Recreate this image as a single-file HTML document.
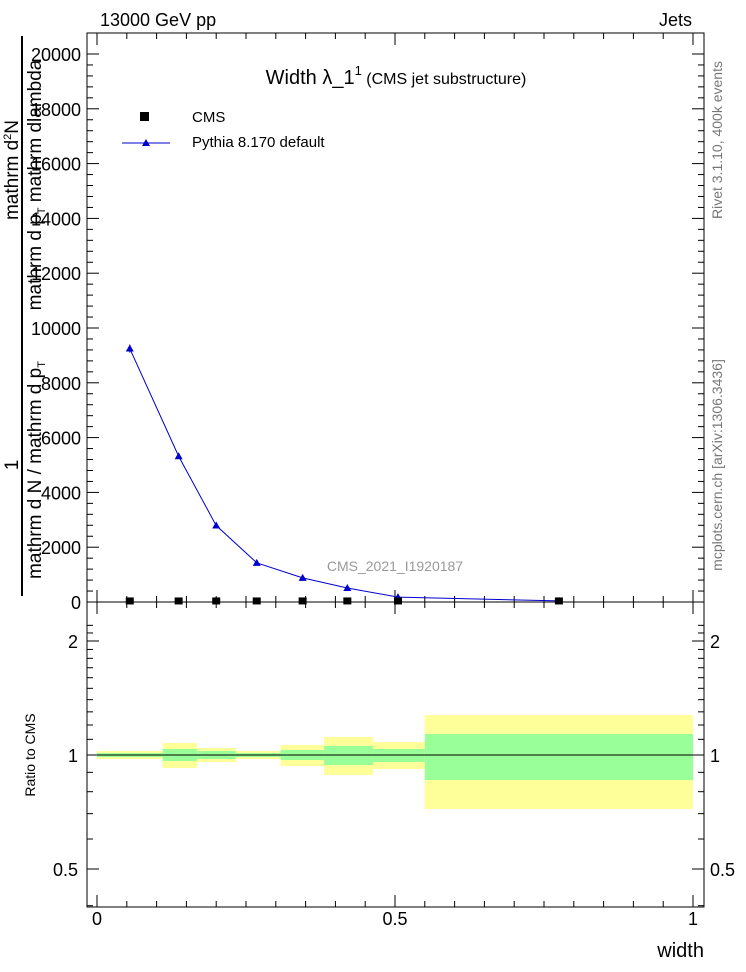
<!DOCTYPE html>
<html><head><meta charset="utf-8"><style>
body{margin:0;background:#fff}
svg{display:block;font-family:"Liberation Sans",sans-serif}
</style></head><body>
<svg id="c" width="746" height="972" xmlns="http://www.w3.org/2000/svg">
<text x="100" y="26" font-size="18">13000 GeV pp</text>
<text x="692" y="26" font-size="18" text-anchor="end">Jets</text>
<text x="396" y="84" font-size="20" text-anchor="middle">Width λ_1<tspan font-size="13" dy="-9">1</tspan><tspan font-size="16" dy="9"> (CMS jet substructure)</tspan></text>
<text x="395" y="571" font-size="14" fill="#999" text-anchor="middle">CMS_2021_I1920187</text>
<text transform="translate(722,140) rotate(-90)" font-size="14" fill="#777" text-anchor="middle">Rivet 3.1.10, 400k events</text>
<text transform="translate(722,465) rotate(-90)" font-size="14" fill="#777" text-anchor="middle">mcplots.cern.ch [arXiv:1306.3436]</text>
<g font-size="19">
<text transform="translate(18,170) rotate(-90)" text-anchor="middle">mathrm d<tspan font-size="11" dy="-7">2</tspan><tspan dy="7">N</tspan></text>
<text transform="translate(18,465) rotate(-90)" text-anchor="middle">1</text>
<line x1="22" y1="36" x2="22" y2="596" stroke="#000" stroke-width="2"/>
<text transform="translate(41,185) rotate(-90)" text-anchor="middle">mathrm d p<tspan font-size="11" dy="4">T</tspan><tspan dy="-4"> mathrm dlambda</tspan></text>
<text transform="translate(41,470) rotate(-90)" text-anchor="middle">mathrm d N / mathrm d p<tspan font-size="11" dy="4">T</tspan></text>
</g>
<text transform="translate(35,755) rotate(-90)" font-size="14" text-anchor="middle">Ratio to CMS</text>
<text x="704" y="957" font-size="20" text-anchor="end">width</text>
<g id="legend">
<rect x="140" y="112" width="9" height="9" fill="#000"/>
<text x="192" y="122" font-size="15">CMS</text>
<line x1="122" y1="143" x2="170" y2="143" stroke="#00c"/>
<polygon points="146,139 142,146 150,146" fill="#00c"/>
<text x="192" y="147" font-size="15">Pythia 8.170 default</text>
</g>
</svg>
<script>
const binEdges=[0,0.11,0.168,0.233,0.308,0.381,0.463,0.55,1.0];
const xPoints=[0.055,0.137,0.200,0.268,0.345,0.420,0.505,0.775];
const pythiaValues=[9250,5320,2790,1430,880,510,180,40];
const pythiaErr=[150,100,70,40,30,20,10,5];
const cmsValues=[20,20,20,20,20,20,20,20];
const yTicks=[0,2000,4000,6000,8000,10000,12000,14000,16000,18000,20000];
const xTickLabels=[0,0.5,1];
const ratioTicks=[0.5,1,2];
const yellowHi=[1.025,1.076,1.043,1.025,1.063,1.116,1.082,1.275];
const yellowLo=[0.976,0.924,0.958,0.976,0.935,0.885,0.918,0.720];
const greenHi=[1.012,1.037,1.025,1.012,1.031,1.056,1.037,1.136];
const greenLo=[0.988,0.964,0.976,0.988,0.970,0.941,0.958,0.859];

const NS="http://www.w3.org/2000/svg";
const svg=document.getElementById('c');
const L=87,R=704,T=33,MB=602,RB=907;
const X=v=>97+v*596;
const Y=v=>602-v*(548/20000);
const RY=v=>755-Math.log2(v)*114;
function mk(tag,attrs,parent){const e=document.createElementNS(NS,tag);for(const k in attrs)e.setAttribute(k,attrs[k]);(parent||svg).appendChild(e);return e;}

const bands=mk('g',{});


for(let i=0;i<binEdges.length-1;i++){
  const x0=X(binEdges[i]),x1=X(binEdges[i+1]);
  const y=mk('rect',{x:x0,y:RY(yellowHi[i]),width:x1-x0,height:RY(yellowLo[i])-RY(yellowHi[i]),fill:'#ffff99'},bands);
  
  
  const g=mk('rect',{x:x0,y:RY(greenHi[i]),width:x1-x0,height:RY(greenLo[i])-RY(greenHi[i]),fill:'#99ff99'},bands);
  
  
}
const one=mk('line',{x1:X(binEdges[0]),x2:X(binEdges[binEdges.length-1]),y1:RY(1),y2:RY(1),stroke:'#000'});



const f1=mk('rect',{x:L,y:T,width:R-L,height:MB-T,fill:'none',stroke:'#000'});


const f2=mk('rect',{x:L,y:MB,width:R-L,height:RB-MB,fill:'none',stroke:'#000'});



for(let i=0;i<yTicks.length;i++){
  const y=Y(yTicks[i]);
  mk('line',{x1:L,x2:L+12,y1:y,y2:y,stroke:'#000'});
  mk('line',{x1:R,x2:R-12,y1:y,y2:y,stroke:'#000'});
  const t=mk('text',{x:81,y:y+7,'font-size':18,'text-anchor':'end'});
  t.textContent=yTicks[i];
  
  
  if(i<yTicks.length-1){for(let k=1;k<5;k++){const ym=Y(yTicks[i]+k*(yTicks[i+1]-yTicks[i])/5);
    mk('line',{x1:L,x2:L+6,y1:ym,y2:ym,stroke:'#000'});mk('line',{x1:R,x2:R-6,y1:ym,y2:ym,stroke:'#000'});}}
}
for(let v=0;v<=1.0001;v+=0.05){
  const x=X(v);const maj=Math.abs(v*2-Math.round(v*2))<1e-6;const len=maj?12:6;
  mk('line',{x1:x,x2:x,y1:T,y2:T+len,stroke:'#000'});
  mk('line',{x1:x,x2:x,y1:MB,y2:MB-len,stroke:'#000'});
  mk('line',{x1:x,x2:x,y1:MB,y2:MB+len,stroke:'#000'});
  mk('line',{x1:x,x2:x,y1:RB,y2:RB-len,stroke:'#000'});
}
xTickLabels.forEach(v=>{const t=mk('text',{x:X(v),y:925,'font-size':18,'text-anchor':'middle'});t.textContent=v;
  
  });
for(let v=0.4;v<=2.3;v+=0.1){const y=RY(v);if(y<MB||y>RB)continue;
  mk('line',{x1:L,x2:L+6,y1:y,y2:y,stroke:'#000'});mk('line',{x1:R,x2:R-6,y1:y,y2:y,stroke:'#000'});}
ratioTicks.forEach(v=>{const y=RY(v);
  mk('line',{x1:L,x2:L+12,y1:y,y2:y,stroke:'#000'});mk('line',{x1:R,x2:R-12,y1:y,y2:y,stroke:'#000'});
  const t=mk('text',{x:78,y:y+7,'font-size':18,'text-anchor':'end'});t.textContent=v;
  
  
  const t2=mk('text',{x:710,y:y+7,'font-size':18});t2.textContent=v;
  
  });

const pl=mk('polyline',{points:xPoints.map((x,i)=>X(x)+','+Y(pythiaValues[i])).join(' '),fill:'none',stroke:'#00c'});


xPoints.forEach((x,i)=>{
  const px=X(x),py=Y(pythiaValues[i]);
  mk('line',{x1:px,x2:px,y1:Y(pythiaValues[i]+pythiaErr[i]),y2:Y(pythiaValues[i]-pythiaErr[i]),stroke:'#00c'});
  const m=mk('polygon',{points:`${px},${py-4} ${px-4},${py+3} ${px+4},${py+3}`,fill:'#00c'});
  
  
  const c=mk('rect',{x:px-4,y:Y(cmsValues[i])-4,width:8,height:7,fill:'#000'});
  
  
});
svg.appendChild(document.getElementById('legend'));
</script>
</body></html>
